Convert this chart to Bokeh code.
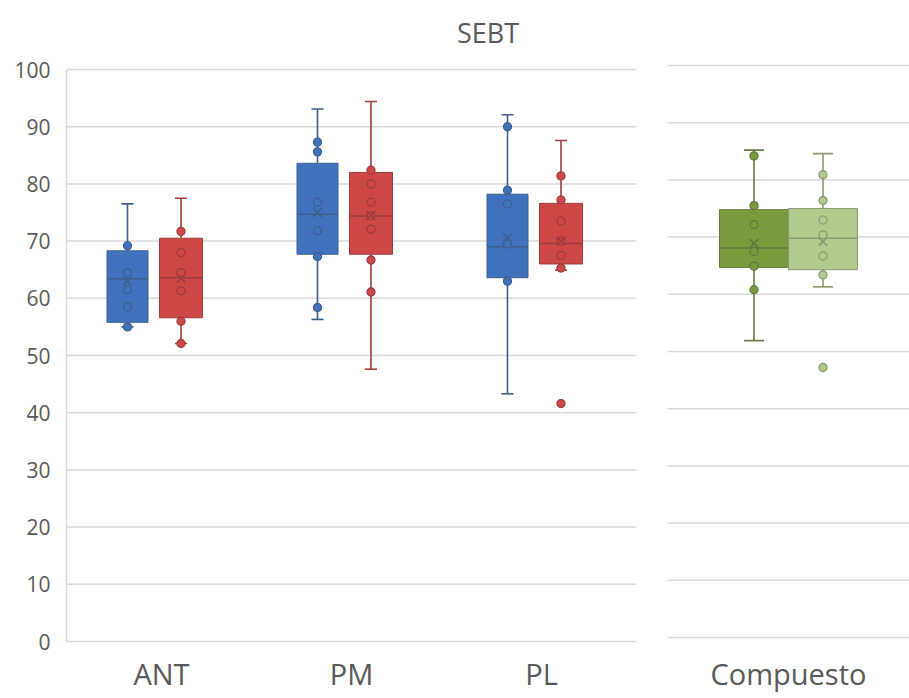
from bokeh.plotting import figure
from bokeh.models import Range1d, FixedTicker, ColumnDataSource
from bokeh.embed import file_html
from bokeh.resources import INLINE

# ---------------- data ----------------
chart_title = "SEBT"
categories = ["ANT", "PM", "PL"]
composite_category = ["Compuesto"]
y_ticks = [0, 10, 20, 30, 40, 50, 60, 70, 80, 90, 100]

# blue series (left panel)
blue_low = [55.0, 56.3, 43.3]
blue_q1 = [55.8, 67.7, 63.6]
blue_med = [63.4, 74.7, 69.0]
blue_q3 = [68.3, 83.6, 78.2]
blue_high = [76.5, 93.1, 92.1]
blue_mean = [63.0, 75.0, 70.6]
blue_points = [[69.2, 64.5, 61.5, 58.5, 55.0],
               [87.3, 85.6, 76.8, 71.8, 67.3, 58.4],
               [90.0, 78.9, 76.5, 69.5, 63.0]]
blue_outliers = [[], [], []]

# red series (left panel)
red_low = [52.1, 47.6, 64.9]
red_q1 = [56.6, 67.7, 66.0]
red_med = [63.6, 74.4, 69.6]
red_q3 = [70.5, 82.0, 76.6]
red_high = [77.5, 94.4, 87.6]
red_mean = [63.5, 74.5, 70.0]
red_points = [[71.7, 68.0, 64.5, 61.3, 56.0, 52.1],
              [82.4, 80.0, 76.8, 74.4, 72.1, 66.7, 61.1],
              [81.4, 77.2, 73.5, 70.0, 67.5, 65.3]]
red_outliers = [[], [], [41.6]]

# composite (right panel)
dkgreen_low = [51.9]
dkgreen_q1 = [64.7]
dkgreen_med = [68.1]
dkgreen_q3 = [74.8]
dkgreen_high = [85.2]
dkgreen_mean = [68.9]
dkgreen_points = [[84.2, 75.5, 72.2, 67.5, 64.9, 60.8]]
dkgreen_outliers = [[]]

ltgreen_low = [61.3]
ltgreen_q1 = [64.3]
ltgreen_med = [69.8]
ltgreen_q3 = [75.0]
ltgreen_high = [84.6]
ltgreen_mean = [69.2]
ltgreen_points = [[80.9, 76.4, 73.0, 70.4, 66.7, 63.4]]
ltgreen_outliers = [[47.2]]

# ---------------- styling ----------------
FONT = "Open Sans"
TEXT = "#595959"
GRID = "#D9D9D9"

UNIT = 190.0                   # px per category (left panel)
PX = 5.72                      # px per value unit
FRAME_W = 909 - 66
x_lo = -0.5
x_hi = x_lo + FRAME_W / UNIT
comp_x = x_lo + (788 - 66) / UNIT          # composite category position
right_start = x_lo + (667 - 66) / UNIT     # start of composite panel
y_lo, y_hi = -11 / PX, 100 + 11 / PX
shift = 4 / PX                             # composite panel sits 4 px higher


def draw_series(p, xs, width, cap, low, q1, med, q3, high, mean, points, outliers,
                fill, line, yname="default"):
    src = ColumnDataSource(dict(
        x=xs, left=[x - width / 2 for x in xs], right=[x + width / 2 for x in xs],
        cl=[x - cap / 2 for x in xs], cr=[x + cap / 2 for x in xs],
        low=low, q1=q1, med=med, q3=q3, high=high, mean=mean))
    kw = dict(source=src, y_range_name=yname)
    p.segment("x", "q3", "x", "high", line_color=line, line_width=1.6, **kw)
    p.segment("x", "q1", "x", "low", line_color=line, line_width=1.6, **kw)
    p.segment("cl", "high", "cr", "high", line_color=line, line_width=1.6, **kw)
    p.segment("cl", "low", "cr", "low", line_color=line, line_width=1.6, **kw)
    p.quad(left="left", right="right", bottom="q1", top="q3",
           fill_color=fill, line_color=line, line_width=1, **kw)
    p.segment("left", "med", "right", "med", line_color=line, line_width=1.5, **kw)
    px, py = [], []
    for i, pts in enumerate(points):
        px += [xs[i]] * len(pts)
        py += pts
    p.scatter(px, py, marker="circle", size=8, fill_color=fill, line_color=line,
              line_width=1.3, y_range_name=yname)
    ox, oy = [], []
    for i, pts in enumerate(outliers):
        ox += [xs[i]] * len(pts)
        oy += pts
    if ox:
        p.scatter(ox, oy, marker="circle", size=8, fill_color=fill, line_color=line,
                  line_width=1.3, y_range_name=yname)
    p.scatter("x", "mean", marker="x", size=12, line_color=line, line_width=1.8, **kw)


p = figure(width=909, height=698, output_backend="svg", toolbar_location=None,
           x_range=Range1d(x_lo, x_hi), y_range=Range1d(y_lo, y_hi),
           min_border_left=66, min_border_right=0, min_border_top=58, min_border_bottom=46)
p.extra_y_ranges = {"comp": Range1d(y_lo - shift, y_hi - shift)}

p.outline_line_color = None
p.xgrid.visible = False
p.ygrid.visible = False

# gridlines for each panel
p.segment(x0=[x_lo] * len(y_ticks), x1=[2.5] * len(y_ticks), y0=y_ticks, y1=y_ticks,
          line_color=GRID, line_width=1.5)
p.segment(x0=[right_start] * len(y_ticks), x1=[x_hi] * len(y_ticks), y0=y_ticks, y1=y_ticks,
          line_color=GRID, line_width=1.5, y_range_name="comp")

# axes
p.yaxis.ticker = FixedTicker(ticks=y_ticks)
p.yaxis.bounds = (0, 100)
p.yaxis.axis_line_color = GRID
p.yaxis.axis_line_width = 1.5
p.yaxis.major_tick_line_color = None
p.yaxis.minor_tick_line_color = None
p.yaxis.major_tick_out = 0
p.yaxis.major_label_text_font = FONT
p.yaxis.major_label_text_font_size = "21px"
p.yaxis.major_label_text_color = TEXT
p.yaxis.major_label_standoff = 16

ticks_x = [0, 1, 2, comp_x]
p.xaxis.ticker = FixedTicker(ticks=ticks_x)
p.xaxis.major_label_overrides = {t: c for t, c in zip(ticks_x, categories + composite_category)}
p.xaxis.axis_line_color = None
p.xaxis.major_tick_line_color = None
p.xaxis.minor_tick_line_color = None
p.xaxis.major_tick_out = 0
p.xaxis.major_tick_in = 0
p.xaxis.major_label_text_font = FONT
p.xaxis.major_label_text_font_size = "29px"
p.xaxis.major_label_text_color = TEXT
p.xaxis.major_label_standoff = 1

# boxes
n = len(categories)
draw_series(p, [i - 34 / UNIT for i in range(n)], 41 / UNIT, 12 / UNIT,
            blue_low, blue_q1, blue_med, blue_q3, blue_high, blue_mean,
            blue_points, blue_outliers, "#4072BE", "#3D5F8C")
draw_series(p, [i + 19.5 / UNIT for i in range(n)], 43 / UNIT, 12 / UNIT,
            red_low, red_q1, red_med, red_q3, red_high, red_mean,
            red_points, red_outliers, "#CE4848", "#9C3C3C")
draw_series(p, [comp_x - 34.5 / UNIT], 69 / UNIT, 20 / UNIT,
            dkgreen_low, dkgreen_q1, dkgreen_med, dkgreen_q3, dkgreen_high, dkgreen_mean,
            dkgreen_points, dkgreen_outliers, "#7A9A3E", "#66773E", yname="comp")
draw_series(p, [comp_x + 34.5 / UNIT], 69 / UNIT, 20 / UNIT,
            ltgreen_low, ltgreen_q1, ltgreen_med, ltgreen_q3, ltgreen_high, ltgreen_mean,
            ltgreen_points, ltgreen_outliers, "#B3CA8E", "#8C9970", yname="comp")

# title
p.title.text = chart_title
p.title.align = "center"
p.title.text_font = FONT
p.title.text_font_size = "27px"
p.title.text_font_style = "normal"
p.title.text_color = TEXT
p.title.standoff = 16

open("out.html", "w").write(file_html(p, INLINE))
